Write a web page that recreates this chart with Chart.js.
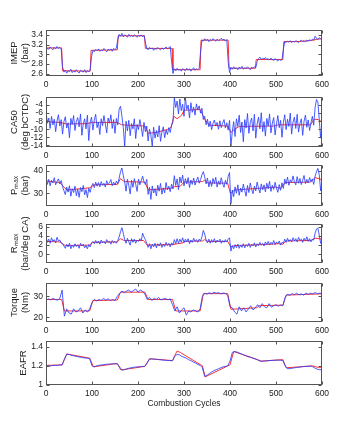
<!DOCTYPE html>
<html>
<head>
<meta charset="utf-8">
<script src="https://cdn.jsdelivr.net/npm/chart.js@4.4.1/dist/chart.umd.min.js"></script>
<style>
  body { margin: 0; background: #fff; width: 355px; height: 425px; position: relative; overflow: hidden; }
  canvas { position: absolute; left: 0; }
</style>
</head>
<body>
<canvas id="imep"></canvas>
<canvas id="ca50"></canvas>
<canvas id="pmax"></canvas>
<canvas id="rmax"></canvas>
<canvas id="torque"></canvas>
<canvas id="eafr"></canvas>
<script>
// combustion cycle index of the blue samples (every 3rd / every 5th cycle)
const cycles3 = [];
for (let c = 0; c <= 600; c += 3) cycles3.push(c);
const cycles5 = [];
for (let c = 0; c <= 600; c += 5) cycles5.push(c);
const xTicks = [0, 100, 200, 300, 400, 500, 600];

// IMEP (bar), every 3 cycles
const imepBlue = [
  3.06, 3.13, 3.10, 3.15, 3.12, 3.09, 3.14, 3.11, 3.16, 3.12,
  3.14, 3.11, 2.74, 2.63, 2.67, 2.61, 2.66, 2.64, 2.69, 2.62,
  2.66, 2.63, 2.68, 2.64, 2.61, 2.67, 2.65, 2.63, 2.68, 2.62,
  2.66, 2.64, 2.67, 2.95, 3.08, 3.05, 3.10, 3.07, 3.11, 3.06,
  3.09, 3.07, 3.12, 3.08, 3.05, 3.10, 3.08, 3.11, 3.06, 3.12,
  3.09, 3.13, 3.30, 3.41, 3.37, 3.43, 3.36, 3.40, 3.38, 3.35,
  3.41, 3.37, 3.39, 3.36, 3.40, 3.38, 3.35, 3.39, 3.37, 3.40,
  3.36, 3.39, 3.25, 3.12, 3.09, 3.14, 3.11, 3.13, 3.08, 3.12,
  3.10, 3.14, 3.11, 3.09, 3.13, 3.10, 3.12, 3.15, 3.11, 3.13,
  3.16, 2.85, 2.60, 2.70, 2.66, 2.71, 2.67, 2.69, 2.65, 2.70,
  2.68, 2.66, 2.71, 2.67, 2.70, 2.65, 2.69, 2.72, 2.67, 2.70,
  2.68, 2.71, 3.05, 3.29, 3.27, 3.32, 3.28, 3.31, 3.26, 3.30,
  3.28, 3.32, 3.29, 3.27, 3.31, 3.28, 3.30, 3.33, 3.29, 3.31,
  3.27, 3.30, 2.85, 2.62, 2.73, 2.69, 2.74, 2.70, 2.72, 2.68,
  2.73, 2.71, 2.75, 2.69, 2.72, 2.70, 2.74, 2.71, 2.68, 2.73,
  2.71, 2.74, 2.72, 2.85, 2.91, 2.94, 2.89, 2.92, 2.90, 2.93,
  2.89, 2.91, 2.88, 2.92, 2.89, 2.87, 2.91, 2.88, 2.86, 2.90,
  2.87, 2.89, 3.10, 3.26, 3.24, 3.27, 3.25, 3.28, 3.24, 3.27,
  3.25, 3.28, 3.26, 3.24, 3.27, 3.29, 3.26, 3.28, 3.25, 3.29,
  3.27, 3.30, 3.28, 3.31, 3.29, 3.37, 3.33, 3.30, 3.34, 3.32,
  3.33
];
const imepRedX = [0, 34, 36, 96, 98, 155, 157, 214, 216, 274, 276, 335, 337, 396, 398, 455, 457, 515, 517, 545, 575, 590, 600];
const imepRed = [3.13, 3.13, 2.66, 2.65, 3.08, 3.09, 3.38, 3.38, 3.12, 3.12, 2.68, 2.68, 3.29, 3.29, 2.71, 2.71, 2.89, 2.89, 3.26, 3.26, 3.28, 3.31, 3.32];
const imepTicks = [2.6, 2.8, 3, 3.2, 3.4];

// CA50 (deg bCTDC), every 3 cycles
const ca50Blue = [
  -5.5, -8.5, -7.2, -9.8, -6.8, -8.9, -7.5, -10.6, -7.9, -6.4,
  -9.2, -7.6, -11.2, -8.1, -6.9, -9.7, -8.4, -12.1, -7.3, -8.8,
  -6.6, -10.3, -8.0, -7.1, -9.4, -6.2, -11.5, -8.6, -7.4, -9.9,
  -6.5, -12.8, -8.3, -7.0, -10.2, -7.7, -6.3, -9.6, -8.2, -11.3,
  -7.4, -9.1, -6.6, -8.7, -10.9, -7.2, -8.5, -6.4, -9.8, -7.6,
  -11.0, -7.3, -8.9, -5.0, -4.3, -6.8, -9.5, -14.2, -8.0, -10.4,
  -7.8, -11.6, -8.6, -9.9, -7.4, -12.3, -8.8, -10.1, -7.6, -9.4,
  -11.8, -8.3, -10.6, -9.2, -12.9, -10.0, -11.4, -14.3, -9.5, -12.2,
  -10.3, -11.9, -9.1, -13.0, -10.7, -9.4, -12.1, -10.2, -11.3, -9.6,
  -10.8, -9.0, -8.2, -2.1, -4.6, -3.0, -6.2, -2.5, -5.4, -3.8,
  -6.8, -2.2, -5.1, -4.0, -7.2, -3.4, -5.8, -4.5, -6.5, -3.7,
  -5.2, -4.2, -6.0, -4.8, -7.6, -6.8, -8.9, -7.5, -9.4, -8.0,
  -10.1, -8.6, -7.7, -9.2, -8.3, -10.0, -7.9, -9.6, -8.5, -7.6,
  -9.7, -8.4, -10.2, -7.8, -14.3, -10.5, -8.1, -11.8, -7.4, -9.3,
  -6.5, -10.8, -8.2, -13.1, -7.6, -9.7, -6.1, -11.0, -8.4, -7.2,
  -10.4, -6.3, -12.2, -8.7, -7.0, -9.9, -5.9, -10.6, -8.1, -11.7,
  -7.3, -9.2, -6.2, -10.9, -8.5, -7.1, -11.4, -8.8, -6.6, -9.6,
  -7.8, -12.0, -8.3, -6.4, -10.1, -7.5, -9.3, -6.0, -11.2, -8.2,
  -7.0, -9.8, -6.3, -10.7, -8.6, -7.4, -11.5, -8.0, -6.5, -9.5,
  -7.7, -10.3, -8.4, -6.8, -9.0, -4.6, -2.6, -3.2, -7.5, -12.2,
  -8.1
];
const ca50RedX = [0, 10, 30, 45, 90, 100, 155, 165, 215, 222, 240, 265, 272, 278, 285, 295, 300, 335, 345, 355, 395, 402, 410, 420, 495, 505, 575, 583, 592, 600];
const ca50Red = [-7.8, -8.2, -8.3, -8.7, -8.6, -8.3, -8.3, -8.9, -9.2, -11, -10.8, -10, -9.5, -6.8, -7.4, -6.5, -5.3, -5.1, -7.5, -9, -9.2, -10.8, -10, -9.3, -9.2, -8.9, -8.9, -7.5, -7.6, -8.2];
const ca50Ticks = [-14, -12, -10, -8, -6, -4];

// Pmax (bar), every 3 cycles
const pmaxBlue = [
  37.5, 34.0, 36.2, 33.4, 35.8, 34.6, 36.9, 33.8, 35.3, 36.4,
  34.2, 35.7, 33.0, 31.2, 29.5, 32.8, 30.6, 33.4, 28.8, 32.1,
  30.4, 33.2, 29.0, 31.9, 28.3, 32.6, 30.8, 33.5, 29.4, 31.7,
  28.2, 32.3, 30.5, 33.1, 34.4, 32.6, 35.0, 33.2, 34.8, 32.9,
  35.2, 33.6, 34.5, 32.8, 35.6, 33.9, 34.7, 36.1, 33.4, 35.0,
  33.7, 35.4, 34.1, 36.8, 39.5, 41.2, 38.0, 35.1, 31.0, 36.2,
  33.5, 29.8, 35.8, 32.7, 36.5, 34.0, 30.9, 36.3, 33.8, 35.6,
  37.6, 35.2, 33.9, 36.2, 29.6, 32.8, 27.4, 33.3, 30.2, 32.1,
  28.9, 33.6, 31.0, 34.4, 29.7, 32.5, 30.3, 34.8, 31.6, 33.2,
  30.8, 34.1, 32.0, 37.8, 33.5, 36.4, 31.7, 37.2, 34.6, 38.1,
  33.3, 36.5, 34.2, 37.0, 32.6, 35.9, 34.0, 36.8, 33.7, 35.6,
  37.2, 34.5, 36.1, 38.2, 39.6, 37.3, 34.2, 36.8, 32.9, 35.7,
  33.1, 36.6, 34.4, 37.1, 32.8, 35.5, 33.9, 36.9, 34.3, 32.7,
  35.8, 34.0, 37.5, 39.2, 25.5, 31.5, 28.6, 32.9, 30.1, 33.8,
  29.2, 32.4, 30.6, 34.1, 31.3, 28.8, 33.5, 30.4, 34.6, 31.9,
  29.9, 33.2, 31.1, 35.0, 32.3, 30.2, 34.2, 31.6, 33.8, 30.7,
  34.5, 32.1, 35.3, 30.9, 33.6, 31.8, 34.9, 32.4, 30.5, 33.9,
  31.4, 34.7, 32.2, 36.3, 34.1, 37.2, 33.6, 36.0, 34.8, 37.7,
  35.1, 33.8, 37.4, 34.5, 36.6, 33.9, 35.8, 37.9, 34.3, 36.2,
  34.6, 37.0, 35.2, 36.4, 34.0, 37.6, 39.5, 41.0, 38.2, 31.2,
  36.0
];
const pmaxRedX = [0, 30, 45, 95, 105, 155, 162, 170, 215, 222, 270, 280, 292, 300, 340, 345, 352, 395, 401, 410, 500, 510, 520, 575, 585, 600];
const pmaxRed = [35.5, 34.8, 31.5, 32.5, 33.8, 34, 36.5, 35.2, 35, 31.6, 32.2, 33, 33.2, 35, 35.2, 35.8, 34.6, 34.5, 30, 31.5, 32.8, 32.2, 34.8, 35, 37, 36];
const pmaxTicks = [30, 40];

// Rmax (bar/deg CA), every 3 cycles
const rmaxBlue = [
  3.9, 2.6, 3.3, 2.4, 3.6, 2.8, 3.2, 2.5, 3.7, 2.9,
  3.1, 2.5, 2.3, 1.8, 1.3, 2.2, 1.6, 2.4, 1.2, 2.0,
  1.5, 2.3, 1.7, 2.1, 1.3, 2.4, 1.8, 2.2, 1.4, 1.9,
  1.2, 2.1, 1.6, 2.5, 2.8, 2.3, 3.0, 2.4, 2.9, 2.2,
  3.1, 2.5, 2.8, 2.3, 3.2, 2.6, 2.9, 2.2, 3.0, 2.5,
  2.8, 2.4, 3.0, 3.8, 4.9, 5.8, 4.6, 3.2, 2.4, 3.5,
  2.7, 2.0, 3.4, 2.6, 3.3, 2.4, 3.1, 2.8, 3.4, 2.9,
  4.6, 3.8, 3.2, 2.4, 1.5, 2.3, 1.2, 2.2, 1.6, 2.4,
  1.4, 2.3, 1.8, 2.5, 1.5, 2.2, 1.7, 2.6, 1.9, 2.4,
  1.6, 2.5, 2.0, 3.2, 2.3, 3.4, 2.4, 3.3, 2.6, 3.6,
  2.5, 3.3, 2.7, 3.4, 2.3, 3.1, 2.6, 3.5, 2.8, 3.2,
  2.6, 3.3, 2.9, 3.8, 5.2, 4.4, 3.1, 2.5, 3.3, 2.4,
  3.2, 2.6, 3.4, 2.5, 3.1, 2.7, 3.3, 2.4, 3.0, 2.6,
  3.2, 2.7, 3.3, 3.6, 0.7, 1.9, 1.2, 2.1, 1.4, 2.2,
  1.3, 2.0, 1.5, 2.3, 1.4, 2.1, 1.7, 2.4, 1.5, 2.2,
  1.8, 2.5, 1.6, 2.3, 1.9, 2.6, 2.0, 2.4, 1.8, 2.7,
  2.1, 2.8, 2.0, 2.6, 2.2, 3.0, 2.1, 2.7, 2.3, 2.9,
  2.0, 2.6, 2.4, 3.3, 2.6, 3.5, 2.8, 3.2, 2.7, 3.6,
  2.9, 3.4, 2.7, 3.7, 3.0, 3.3, 2.6, 3.5, 2.9, 3.8,
  2.8, 3.4, 2.7, 3.2, 3.1, 4.6, 5.5, 5.7, 4.2, 2.4,
  3.3
];
const rmaxRedX = [0, 30, 42, 95, 102, 155, 162, 170, 212, 220, 275, 285, 295, 302, 340, 345, 352, 395, 402, 410, 470, 505, 515, 522, 575, 585, 600];
const rmaxRed = [2.8, 2.7, 1.9, 2.0, 2.6, 2.7, 3.4, 3.0, 3.0, 2.0, 2.1, 2.3, 2.4, 2.8, 2.9, 3.2, 2.8, 2.8, 1.6, 1.9, 2.1, 2.3, 2.2, 2.9, 3.0, 3.5, 3.3];
const rmaxTicks = [0, 2, 4, 6];

// Torque (Nm), every 5 cycles
const torqueBlue = [
  28, 28.8, 28.3, 29, 28.5, 28.2, 29, 33, 20.5, 24,
  22, 21.5, 24, 22.5, 23, 24.5, 22, 23.5, 22.5, 24,
  27, 28.5, 27.8, 28.5, 28, 29, 28.2, 28.8, 28, 28.5,
  28, 30, 31.5, 32.5, 31.8, 32.5, 33, 32, 32.8, 33.5,
  32, 33, 32.5, 31, 28.5, 29.5, 28, 29, 28.5, 29.5,
  28.2, 28.8, 29, 28.3, 28.8, 26, 23, 25, 22, 23.5,
  24.5, 21, 23, 22.5, 23.5, 23, 22.5, 24, 30, 31.5,
  31, 31.8, 31.2, 32, 31.5, 31.8, 31.2, 31.6, 31.4, 30.5,
  25, 24.5, 22.5, 21.5, 25, 23, 24.5, 22.5, 24, 25.5,
  23.5, 24.5, 26, 24.5, 26.5, 25, 24.5, 26.5, 24.8, 25.5,
  26, 25.3, 25.8, 25.5, 29.5, 31, 30.5, 31.3, 30.8, 31.5,
  30.7, 31.2, 30.6, 31.6, 31, 31.5, 31.2, 31.8, 31.3, 31.5,
  31.3
];
const torqueRedX = [0, 34, 40, 95, 102, 155, 162, 215, 222, 275, 282, 335, 342, 395, 402, 458, 463, 515, 522, 600];
const torqueRed = [28.5, 28.5, 23, 23, 28, 28.2, 32, 32, 28.5, 28.5, 23, 23, 31.3, 31.3, 23.8, 24.5, 25.5, 25.8, 30.6, 31.2];
const torqueTicks = [20, 30];

// EAFR, every 5 cycles
const eafrBlue = [
  1.20, 1.20, 1.20, 1.205, 1.205, 1.205, 1.21, 1.21, 1.27, 1.32,
  1.32, 1.31, 1.305, 1.30, 1.295, 1.29, 1.285, 1.283, 1.28, 1.275,
  1.20, 1.19, 1.20, 1.205, 1.21, 1.213, 1.216, 1.218, 1.22, 1.222,
  1.222, 1.22, 1.19, 1.155, 1.16, 1.168, 1.175, 1.18, 1.185, 1.188,
  1.19, 1.192, 1.195, 1.195, 1.23, 1.27, 1.272, 1.27, 1.268, 1.265,
  1.263, 1.26, 1.258, 1.256, 1.255, 1.253, 1.30, 1.32, 1.315, 1.30,
  1.29, 1.28, 1.265, 1.255, 1.24, 1.23, 1.215, 1.205, 1.18, 1.09,
  1.10, 1.12, 1.135, 1.15, 1.16, 1.17, 1.18, 1.19, 1.195, 1.20,
  1.25, 1.34, 1.35, 1.345, 1.335, 1.325, 1.315, 1.305, 1.295, 1.29,
  1.28, 1.272, 1.262, 1.25, 1.248, 1.25, 1.252, 1.255, 1.257, 1.258,
  1.26, 1.26, 1.258, 1.255, 1.20, 1.17, 1.172, 1.175, 1.18, 1.183,
  1.186, 1.19, 1.192, 1.195, 1.196, 1.198, 1.19, 1.175, 1.165, 1.16,
  1.16
];
const eafrRedX = [0, 35, 45, 95, 103, 155, 162, 168, 215, 225, 275, 280, 285, 292, 340, 346, 395, 400, 408, 460, 468, 515, 522, 580, 590, 600];
const eafrRed = [1.205, 1.21, 1.325, 1.28, 1.19, 1.225, 1.16, 1.16, 1.195, 1.275, 1.255, 1.31, 1.355, 1.34, 1.2, 1.085, 1.2, 1.21, 1.35, 1.265, 1.25, 1.265, 1.18, 1.2, 1.185, 1.185];
const eafrTicks = [1, 1.2, 1.4];

const BLUE = 'rgba(45, 65, 255, 0.85)';
const RED = '#ff3030';
const AXIS = '#555';
const TEXT = '#222';
const FONT = { family: "'Liberation Sans', Arial, sans-serif", size: 8.5, lineHeight: 1.3 };
const TITLE_FONT = { family: "'Liberation Sans', Arial, sans-serif", size: 9.5, lineHeight: 1.15 };
const PAD_TOP = 14;

// plot box of each panel (page pixels) and axis limits
const panels = [
  { id: 'imep',   title: ['IMEP', '(bar)'],       xs: cycles3, blue: imepBlue,   redX: imepRedX,   red: imepRed,   ticks: imepTicks,   min: 2.55,  max: 3.5,  top: 30,  bottom: 76,  titlePad: 8.5 },
  { id: 'ca50',   title: ['CA50', '(deg bCTDC)'], xs: cycles3, blue: ca50Blue,   redX: ca50RedX,   red: ca50Red,   ticks: ca50Ticks,   min: -14.4, max: -2,   top: 97,  bottom: 147, titlePad: 8.5 },
  { id: 'pmax',   title: ['P\u2098\u2090\u2093', '(bar)'],        xs: cycles3, blue: pmaxBlue, redX: pmaxRedX, red: pmaxRed, ticks: pmaxTicks, min: 24.5, max: 42.5, top: 165, bottom: 206, titlePad: 8.5 },
  { id: 'rmax',   title: ['R\u2098\u2090\u2093', '(bar/deg CA)'], xs: cycles3, blue: rmaxBlue, redX: rmaxRedX, red: rmaxRed, ticks: rmaxTicks, min: -1.9, max: 6.6,  top: 224, bottom: 263, titlePad: 8.5 },
  { id: 'torque', title: ['Torque', '(Nm)'],      xs: cycles5, blue: torqueBlue, redX: torqueRedX, red: torqueRed, ticks: torqueTicks, min: 17.7,  max: 36.4, top: 283, bottom: 322, titlePad: 8.5 },
  { id: 'eafr',   title: ['EAFR'],                xs: cycles5, blue: eafrBlue,   redX: eafrRedX,   red: eafrRed,   ticks: eafrTicks,   min: 1,     max: 1.46, top: 341, bottom: 385, titlePad: 17.5 }
];

function pts(xs, ys) {
  return xs.map((x, i) => ({ x: x, y: ys[i] }));
}

// MATLAB style box with inward ticks on all four sides
const boxTicks = {
  id: 'boxTicks',
  afterDatasetsDraw(chart) {
    const { ctx, chartArea: a, scales: { x, y } } = chart;
    const L = Math.round(a.left) + 0.5, R = Math.round(a.right) - 0.5;
    const T = Math.round(a.top) + 0.5, B = Math.round(a.bottom) - 0.5;
    ctx.save();
    ctx.strokeStyle = AXIS;
    ctx.lineWidth = 1;
    ctx.strokeRect(L, T, R - L, B - T);
    ctx.beginPath();
    x.ticks.forEach(t => {
      const px = Math.round(x.getPixelForValue(t.value)) + 0.5;
      ctx.moveTo(px, B); ctx.lineTo(px, B - 3);
      ctx.moveTo(px, T); ctx.lineTo(px, T + 3);
    });
    y.ticks.forEach(t => {
      const py = Math.round(y.getPixelForValue(t.value)) + 0.5;
      ctx.moveTo(L, py); ctx.lineTo(L + 3, py);
      ctx.moveTo(R, py); ctx.lineTo(R - 3, py);
    });
    ctx.stroke();
    ctx.restore();
  }
};

panels.forEach((p, i) => {
  const last = i === panels.length - 1;
  const xH = last ? 26 : 16;
  const cv = document.getElementById(p.id);
  cv.width = 355;
  cv.height = (p.bottom - p.top) + PAD_TOP + xH;
  cv.style.top = (p.top - PAD_TOP) + 'px';

  new Chart(cv, {
    type: 'line',
    data: {
      datasets: [
        // first dataset is painted last, so the measured trace sits on top
        { data: pts(p.xs, p.blue), borderColor: BLUE, borderWidth: 1, pointRadius: 0, tension: 0 },
        { data: pts(p.redX, p.red), borderColor: RED, borderWidth: 1, pointRadius: 0, tension: 0 }
      ]
    },
    options: {
      responsive: false,
      animation: false,
      devicePixelRatio: 1,
      events: [],
      layout: { padding: { top: PAD_TOP, right: 33, left: 0, bottom: 0 } },
      plugins: { legend: { display: false }, tooltip: { enabled: false } },
      scales: {
        x: {
          type: 'linear', min: 0, max: 600,
          afterBuildTicks: s => { s.ticks = xTicks.map(v => ({ value: v })); },
          afterFit: s => { s.height = xH; },
          grid: { display: false, drawTicks: false },
          border: { display: false },
          ticks: { font: FONT, color: TEXT, padding: 3, maxRotation: 0, autoSkip: false },
          title: { display: last, text: 'Combustion Cycles', font: FONT, color: TEXT, padding: { top: 0, bottom: 2 } }
        },
        y: {
          type: 'linear', min: p.min, max: p.max,
          afterBuildTicks: s => { s.ticks = p.ticks.map(v => ({ value: v })); },
          afterFit: s => { s.width = 46; },
          grid: { display: false, drawTicks: false },
          border: { display: false },
          ticks: { font: FONT, color: TEXT, padding: 3, autoSkip: false, callback: v => String(Math.round(v * 100) / 100) },
          title: { display: true, text: p.title, font: TITLE_FONT, color: TEXT, padding: { top: p.titlePad, bottom: 0 } }
        }
      }
    },
    plugins: [boxTicks]
  });
});
</script>
</body>
</html>
